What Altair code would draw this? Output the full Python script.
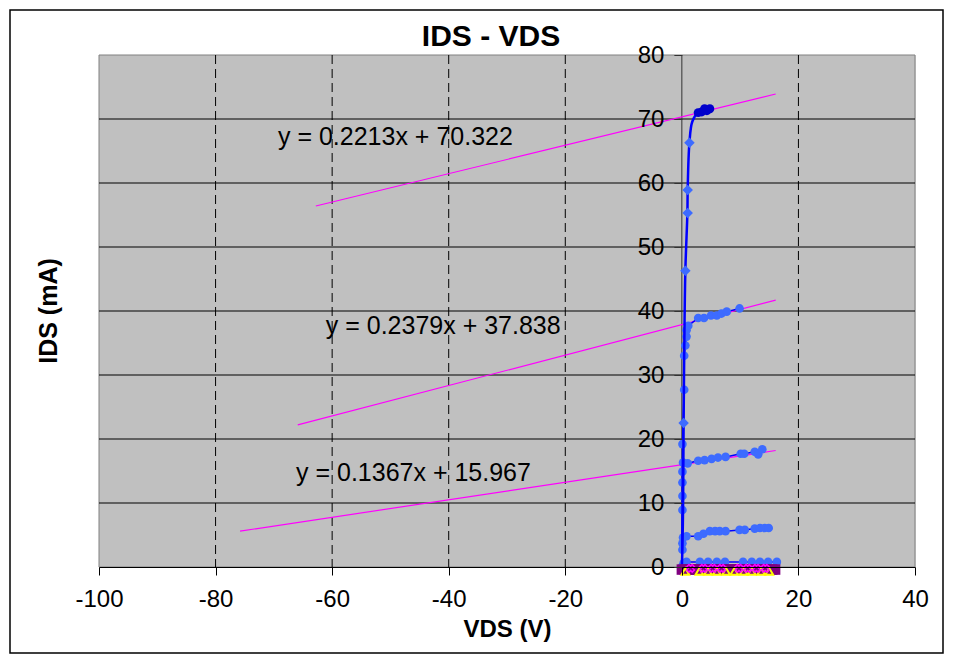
import altair as alt
import pandas as pd

FONT = "Liberation Sans"
W, H = 816, 512

x_ticks = [-100, -80, -60, -40, -20, 0, 20, 40]
x_grid = [-80, -60, -40, -20, 20]
y_ticks = [0, 10, 20, 30, 40, 50, 60, 70, 80]
grid_ids = [10, 20, 30, 40, 50, 60, 70]
y_axis_at = [0]

# smoothed main curve (VGS high)
line_vds = [0.0, 0.1, 0.2, 0.25, 0.3, 0.4, 0.6, 0.95, 1.0, 1.3, 1.8, 2.8, 3.4, 3.9, 4.3, 4.8]
line_ids = [0.0, 3.0, 9.0, 15.0, 22.5, 33.0, 46.3, 55.3, 58.9, 66.3, 69.6, 71.0, 71.1, 71.6, 71.3, 71.6]
diamond_vds = [0.3, 0.6, 1.0, 1.0, 1.3]
diamond_ids = [22.5, 46.3, 55.3, 58.9, 66.3]
top_vds = [2.8, 3.4, 3.9, 4.3, 4.8]
top_ids = [71.0, 71.1, 71.6, 71.3, 71.6]

# plateau series (circles)
p1_vds = [0.3, 0.8, 3.1, 4.5, 6.0, 7.4, 10.5, 12.0, 13.4, 14.8, 16.3]
p1_ids = [0.6, 0.8, 0.8, 0.8, 0.8, 0.8, 0.8, 0.8, 0.8, 0.8, 0.8]
p5_vds = [0.0, 0.1, 0.1, 0.2, 0.8, 2.8, 3.7, 4.8, 5.7, 6.5, 7.5, 9.9, 10.8, 12.5, 13.4, 14.2, 14.9]
p5_ids = [0.0, 2.7, 3.7, 4.6, 4.8, 4.8, 5.2, 5.6, 5.6, 5.6, 5.6, 5.8, 5.8, 6.0, 6.1, 6.1, 6.1]
p16_vds = [0.0, 0.1, 0.1, 0.1, 0.1, 0.2, 1.0, 2.8, 3.9, 5.1, 6.2, 7.5, 10.1, 10.7, 12.5, 13.1, 13.8]
p16_ids = [0.0, 8.9, 11.1, 13.2, 14.9, 16.3, 16.2, 16.6, 16.7, 16.9, 17.1, 17.2, 17.7, 17.7, 18.0, 17.6, 18.4]
p38_vds = [0.0, 0.1, 0.4, 0.4, 0.6, 0.8, 0.8, 1.1, 2.8, 3.8, 5.0, 6.0, 6.8, 7.7, 9.9]
p38_ids = [0.0, 19.2, 27.7, 33.0, 34.6, 36.0, 37.0, 37.7, 38.9, 38.9, 39.3, 39.3, 39.6, 39.9, 40.4]

# series sitting at zero current
zero_sq_vds = [0.0, 0.5, 1.0, 1.5, 2.0, 2.5, 3.0, 3.5, 4.0, 4.5, 5.0, 5.5, 6.0, 6.5, 7.0, 7.5, 8.0,
               8.5, 9.0, 9.5, 10.0, 10.5, 11.0, 11.5, 12.0, 12.5, 13.0, 13.5, 14.0, 14.5, 15.0, 15.5, 16.0]
zero_sq_ids = [-0.4, -0.4, -0.4, -0.4, -0.4, -0.4, -0.4, -0.4, -0.4, -0.4, -0.4, -0.4, -0.4,
               -0.4, -0.4, -0.4, -0.4, -0.4, -0.4, -0.4, -0.4, -0.4, -0.4, -0.4, -0.4, -0.4,
               -0.4, -0.4, -0.4, -0.4, -0.4, -0.4, -0.4]
zero_tri_vds = [0.6, 3.0, 4.5, 6.0, 7.6, 9.0, 10.6, 12.0, 13.6, 15.0]
zero_tri_ids = [-0.7, -0.7, -0.7, -0.7, -0.7, -0.7, -0.7, -0.7, -0.7, -0.7]
zero_x_vds = [1.5, 3.7, 5.3, 6.8, 9.8, 11.3, 12.8, 14.3]
zero_x_ids = [-0.2, -0.2, -0.2, -0.2, -0.2, -0.2, -0.2, -0.2]

# linear trendlines (end points)
t1_vds = [-62.8, 16.1]
t1_ids = [56.4, 73.9]
t2_vds = [-65.9, 16.1]
t2_ids = [22.2, 41.7]
t3_vds = [-75.8, 16.1]
t3_ids = [5.6, 18.2]

eq_labels = ["y = 0.2213x + 70.322", "y = 0.2379x + 37.838", "y = 0.1367x + 15.967"]
eq_vds = [-69.3, -61.1, -66.2]
eq_ids = [66.0, 36.4, 13.4]


def df(v, i):
    return pd.DataFrame({"vds": v, "ids": i, "k": list(range(len(v)))})


x_enc = alt.X("vds:Q", scale=alt.Scale(domain=[-100, 40], nice=False, zero=False),
              axis=alt.Axis(values=x_ticks, title="VDS (V)", grid=False, zindex=1,
                            domainColor="#000000",
                            tickColor="#000000", tickSize=8, labelFontSize=24, labelFont=FONT,
                            labelColor="#000000", labelPadding=12, titleFont=FONT,
                            titleFontSize=24, titleFontWeight="bold", titleColor="#000000",
                            titlePadding=6, labelFlush=False,
                            labelExpr="'' + datum.value"))
y_enc = alt.Y("ids:Q", scale=alt.Scale(domain=[0, 80], nice=False),
              axis=alt.Axis(values=y_ticks, title=None, grid=False, offset=-W * 100 / 140,
                            zindex=1, domain=False, tickColor="#333333", tickSize=8,
                            labelFontSize=24, labelFont=FONT, labelColor="#000000",
                            labelPadding=10, labelFlush=False))

bg = alt.Chart(pd.DataFrame({"a": [0]})).mark_rect(
    fill="#C0C0C0", stroke="#808080", strokeWidth=1).encode(
    x=alt.value(0), x2=alt.value(W), y=alt.value(0), y2=alt.value(H))

hgrid = alt.Chart(pd.DataFrame({"ids": grid_ids})).mark_rule(color="#000000", strokeWidth=1).encode(y=y_enc)
vgrid = alt.Chart(pd.DataFrame({"vds": x_grid})).mark_rule(
    color="#000000", strokeWidth=1, strokeDash=[9, 5]).encode(x=x_enc)
yline = alt.Chart(pd.DataFrame({"vds": y_axis_at})).mark_rule(
    color="#333333", strokeWidth=1).encode(x=x_enc)

def trend(v, i):
    return alt.Chart(df(v, i)).mark_line(color="#FF00FF", strokeWidth=1.2).encode(x=x_enc, y=y_enc)

trends = [trend(t1_vds, t1_ids), trend(t2_vds, t2_ids), trend(t3_vds, t3_ids)]

def plateau(v, i):
    base = alt.Chart(df(v, i))
    ln = base.mark_line(color="#0000FF", strokeWidth=1.5, clip=False).encode(x=x_enc, y=y_enc, order="k:Q")
    pts = base.mark_point(shape="circle", filled=True, color="#3D6BFF", size=75, opacity=1,
                          clip=False).encode(x=x_enc, y=y_enc)
    return [ln, pts]

plateaus = plateau(p1_vds, p1_ids) + plateau(p5_vds, p5_ids) + plateau(p16_vds, p16_ids) + plateau(p38_vds, p38_ids)

main_line = alt.Chart(df(line_vds, line_ids)).mark_line(
    color="#0000FF", strokeWidth=2.5, interpolate="catmull-rom", clip=False).encode(x=x_enc, y=y_enc, order="k:Q")
diamonds = alt.Chart(df(diamond_vds, diamond_ids)).mark_point(
    shape="diamond", filled=True, color="#3D6BFF", size=110, opacity=1).encode(x=x_enc, y=y_enc)
top = alt.Chart(df(top_vds, top_ids)).mark_point(
    shape="circle", filled=True, color="#0000CC", size=80, opacity=1).encode(x=x_enc, y=y_enc)

sq = alt.Chart(df(zero_sq_vds, zero_sq_ids)).mark_point(
    shape="square", filled=True, color="#800080", size=110, opacity=1, clip=False).encode(x=x_enc, y=y_enc)
tri = alt.Chart(df(zero_tri_vds, zero_tri_ids)).mark_point(
    shape="triangle-up", filled=False, color="#FFFF00", size=60, strokeWidth=2, opacity=1,
    clip=False).encode(x=x_enc, y=y_enc)
xs = alt.Chart(df(zero_x_vds, zero_x_ids)).mark_point(
    shape="cross", angle=45, filled=False, color="#FF00FF", size=60, strokeWidth=1.5, opacity=1,
    clip=False).encode(x=x_enc, y=y_enc)

eqs = alt.Chart(pd.DataFrame({"vds": eq_vds, "ids": eq_ids, "label": eq_labels})).mark_text(
    align="left", baseline="alphabetic", font=FONT, fontSize=25, color="#000000").encode(
    x=x_enc, y=y_enc, text="label:N")

ytitle = alt.Chart(pd.DataFrame({"t": ["IDS (mA)"]})).mark_text(
    angle=270, align="center", baseline="middle", font=FONT, fontSize=25, fontWeight="bold",
    color="#000000").encode(x=alt.value(-50), y=alt.value(256), text="t:N")
title = alt.Chart(pd.DataFrame({"t": ["IDS - VDS"]})).mark_text(
    align="center", baseline="alphabetic", font=FONT, fontSize=30, fontWeight="bold",
    color="#000000").encode(x=alt.value(392), y=alt.value(-9), text="t:N")
frame = alt.Chart(pd.DataFrame({"a": [0]})).mark_rect(
    fillOpacity=0, stroke="#000000", strokeWidth=1.5).encode(
    x=alt.value(-89), x2=alt.value(W + 28), y=alt.value(-45), y2=alt.value(H + 86))

chart = alt.layer(
    frame, bg, vgrid, hgrid, yline, *trends, *plateaus, main_line, diamonds, top, sq, tri, xs,
    eqs, ytitle, title
).properties(
    width=W, height=H,
    autosize=alt.AutoSizeParams(type="none"),
    padding={"left": 91, "top": 47, "right": 30, "bottom": 88},
).configure_view(
    fill="#C0C0C0", stroke="#808080", strokeWidth=1
).configure(background="#FFFFFF")

chart.save("out.html", embed_options={"renderer": "svg", "actions": False})
